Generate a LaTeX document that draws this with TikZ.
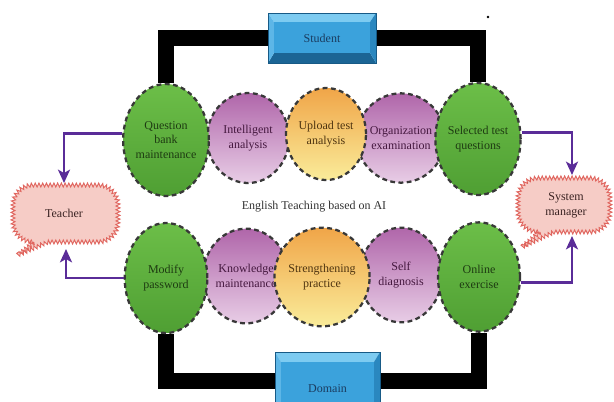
\documentclass[tikz,border=0pt]{standalone}
\usepackage{fontspec}
\setmainfont{Liberation Serif}
\usetikzlibrary{shapes.geometric,arrows.meta,decorations.pathmorphing,calc}

\definecolor{greenTop}{HTML}{6CBE48}
\definecolor{greenBot}{HTML}{4F9F33}
\definecolor{greenInk}{HTML}{1E3B12}
\definecolor{purpTop}{HTML}{B066AA}
\definecolor{purpBot}{HTML}{E8CDE6}
\definecolor{purpInk}{HTML}{45183F}
\definecolor{yelTop}{HTML}{F0A548}
\definecolor{yelBot}{HTML}{FAEC9A}
\definecolor{yelInk}{HTML}{4E3410}
\definecolor{dashInk}{HTML}{383838}
\definecolor{flowInk}{HTML}{5A2C98}
\definecolor{bubbleFill}{HTML}{F6CCC6}
\definecolor{bubbleLine}{HTML}{E0665F}
\definecolor{bubbleInk}{HTML}{3A2222}
\definecolor{faceBlue}{HTML}{3BA2DC}
\definecolor{topBlue}{HTML}{7DCBF1}
\definecolor{leftBlue}{HTML}{5DB6E7}
\definecolor{rightBlue}{HTML}{2A87BF}
\definecolor{botBlue}{HTML}{1B6595}
\definecolor{edgeBlue}{HTML}{175A86}
\definecolor{boxInk}{HTML}{1B3C60}

\pgfdeclarelayer{background}
\pgfsetlayers{background,main}

% bevelled push-button box: x1 y1 x2 y2 side-inset top-inset bottom-inset
\newcommand\bevelbox[7]{%
  \fill[topBlue]   (#1,#2) -- (#3,#2) -- (#3-#5,#2+#6) -- (#1+#5,#2+#6) -- cycle;
  \fill[botBlue]   (#1,#4) -- (#3,#4) -- (#3-#5,#4-#7) -- (#1+#5,#4-#7) -- cycle;
  \fill[leftBlue]  (#1,#2) -- (#1+#5,#2+#6) -- (#1+#5,#4-#7) -- (#1,#4) -- cycle;
  \fill[rightBlue] (#3,#2) -- (#3-#5,#2+#6) -- (#3-#5,#4-#7) -- (#3,#4) -- cycle;
  \fill[faceBlue]  (#1+#5,#2+#6) rectangle (#3-#5,#4-#7);
  \draw[edgeBlue, line width=0.4pt] (#1,#2) rectangle (#3,#4);
}

\begin{document}
\begin{tikzpicture}[x=0.75pt,y=-0.75pt,
  txt/.style={font=\fontsize{9}{11}\selectfont, align=center},
  stage/.style={txt, ellipse, inner sep=0pt, draw=dashInk, line width=1.7pt,
    dash pattern=on 3.6pt off 2.6pt},
  greenstage/.style={stage, top color=greenTop, bottom color=greenBot, text=greenInk},
  purplestage/.style={stage, top color=purpTop, bottom color=purpBot, text=purpInk},
  yellowstage/.style={stage, top color=yelTop, bottom color=yelBot, text=yelInk},
  boxlabel/.style={txt, rectangle, inner sep=0pt, text=boxInk},
  spine/.style={black, line width=11.5pt, line join=miter},
  flow/.style={flowInk, line width=2.2pt,
    -{Stealth[length=10pt, width=9pt, inset=2.5pt]}},
  bubble/.style={fill=bubbleFill, draw=bubbleLine, line width=0.7pt,
    decorate, decoration={zigzag, amplitude=1.5pt, segment length=2.8pt}},
]
\useasboundingbox (0,0) rectangle (614,401);
\clip (0,0) rectangle (614,401);

% upper row of stages
\node[purplestage, minimum width=61.5pt, minimum height=67.5pt] (ia)  at (248,138) {Intelligent\\analysis};
\node[purplestage, minimum width=60pt,   minimum height=67pt]   (org) at (401,138) {Organization\\examination};
\node[yellowstage, minimum width=60pt,   minimum height=69pt]   (ut)  at (326,134) {Upload test\\analysis};
\node[greenstage,  minimum width=62pt,   minimum height=84pt]   (qb)  at (166,140) {Question\\bank\\maintenance};
\node[greenstage,  minimum width=60pt,   minimum height=84pt]   (sel) at (478,139) {Selected test\\questions};

% lower row of stages
\node[purplestage, minimum width=58pt,   minimum height=71pt]   (km)  at (246,276) {Knowledge\\maintenance};
\node[purplestage, minimum width=61.5pt, minimum height=71pt]   (sd)  at (401,275) {Self\\diagnosis};
\node[yellowstage, minimum width=67.5pt, minimum height=74pt]   (sp)  at (322,277) {Strengthening\\practice};
\node[greenstage,  minimum width=62pt,   minimum height=82.5pt] (mp)  at (166,278) {Modify\\password};
\node[greenstage,  minimum width=61.5pt, minimum height=82pt]   (ox)  at (479,277) {Online\\exercise};

% Student and Domain buttons
\bevelbox{268}{13}{376}{63}{6}{9}{10}
\node[boxlabel, minimum width=81pt, minimum height=37.5pt] (student) at (322,38) {Student};
\bevelbox{275}{352}{380}{425}{6}{10}{10}
\node[boxlabel, minimum width=78.75pt, minimum height=54.75pt] (domain) at (327.5,388.5) {Domain};

% white ground and the thick black frame linking the rows to the buttons
\begin{pgfonlayer}{background}
  \fill[white] (0,0) rectangle (614,401);
  \draw[spine] (qb.north) |- (student.west);
  \draw[spine] (sel.north) |- (student.east);
  \draw[spine] (mp.south) |- (domain.172);
  \draw[spine] (ox.south) |- (domain.8);
\end{pgfonlayer}

% speech bubbles
\draw[bubble] (34,242) [rounded corners=15pt] -- (13,242) -- (13,185) -- (118,185) -- (118,242)
  [sharp corners] -- (48,242) -- (18,255) -- cycle;
\node[txt, text=bubbleInk] (teacher) at (64,213) {Teacher};
\draw[bubble] (540,232) [rounded corners=15pt] -- (518,232) -- (518,178) -- (610,178) -- (610,232)
  [sharp corners] -- (554,232) -- (522,247) -- cycle;
\node[txt, text=bubbleInk] (sysman) at (566,205) {System\\manager};

\coordinate (tTop) at (64,183);
\coordinate (tBot) at (66,249);
\coordinate (sTop) at (572,175);
\coordinate (sBot) at (572,236);

% purple flows to the users
\draw[flow] (qb.172) -| (tTop);
\draw[flow] (mp.west) -| (tBot);
\draw[flow] (sel.8) -| (sTop);
\draw[flow] (ox.-8) -| (sBot);

% centre caption
\node[txt, text=black!80] (title) at (314,207) {English Teaching based on AI};

\fill[black] (488,17) circle[radius=1.3];
\end{tikzpicture}
\end{document}
